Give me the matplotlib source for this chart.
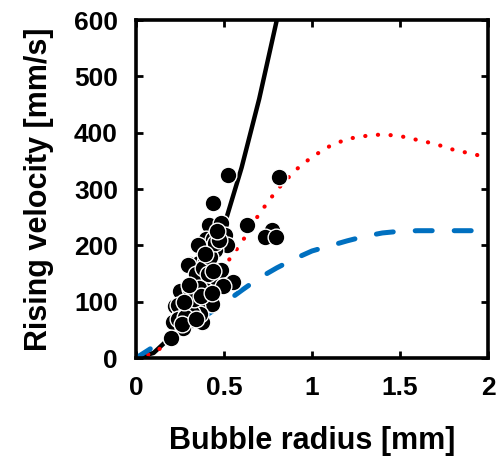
import matplotlib
matplotlib.use("Agg")
import matplotlib.pyplot as plt

# --- data ------------------------------------------------------------------
# measured bubbles: radius [mm], rising velocity [mm/s]
r_meas = [0.52, 0.814, 0.436, 0.417, 0.481, 0.629, 0.771, 0.733, 0.794, 0.398,
          0.436, 0.506, 0.519, 0.373, 0.449, 0.398, 0.307, 0.36, 0.481, 0.335,
          0.373, 0.553, 0.449, 0.496, 0.25, 0.307, 0.392, 0.33, 0.222, 0.307,
          0.405, 0.43, 0.345, 0.25, 0.212, 0.316, 0.373, 0.269, 0.197, 0.364,
          0.297, 0.392, 0.24, 0.24, 0.29, 0.34, 0.38, 0.42, 0.45, 0.47,
          0.41, 0.36, 0.32, 0.28, 0.26, 0.33, 0.37, 0.43, 0.46, 0.35,
          0.39, 0.44, 0.30, 0.34, 0.27]
v_meas = [325, 321, 275, 236, 240, 236, 227, 214, 214, 211,
          211, 218, 201, 193, 192, 174, 166, 168, 157, 141,
          141, 135, 130, 127, 119, 122, 121, 110, 92, 100,
          100, 95, 91, 76, 64, 67, 64, 53, 35, 79,
          165, 171, 94, 69, 85, 150, 160, 180, 205, 210,
          150, 125, 80, 72, 60, 105, 110, 115, 225, 200,
          185, 155, 130, 70, 100]

# model curves
r_black = [0, 0.1, 0.2, 0.3, 0.4, 0.5, 0.6, 0.7, 0.8, 0.85]
v_black = [0, 9, 38, 84, 150, 234, 338, 460, 600, 680]

r_red = [0, 0.1, 0.2, 0.3, 0.4, 0.5, 0.6, 0.7, 0.8, 0.9, 1.0, 1.1, 1.2, 1.3,
         1.4, 1.5, 1.6, 1.7, 1.8, 1.9, 2.0]
v_red = [0, 9, 30, 68, 115, 162, 205, 256, 298, 332, 357, 376, 389, 394,
         397, 394, 387, 380, 370, 363, 356]

r_blue = [0, 0.1, 0.2, 0.3, 0.4, 0.5, 0.6, 0.7, 0.8, 0.9, 1.0, 1.1, 1.2, 1.3,
          1.4, 1.5, 1.6, 1.8, 2.0]
v_blue = [0, 20, 40, 58, 76, 97, 120, 142, 160, 176, 190, 199, 208, 216,
          222, 225, 226, 226, 226]

x_ticks = [0, 0.5, 1, 1.5, 2]
x_labels = ["0", "0.5", "1", "1.5", "2"]
y_ticks = [0, 100, 200, 300, 400, 500, 600]

# --- figure ------------------------------------------------------------------
plt.rcParams['font.family'] = ['Liberation Sans', 'DejaVu Sans']
plt.rcParams['font.weight'] = 'bold'

fig = plt.figure(figsize=(4.97, 4.62), dpi=100)
ax = fig.add_axes([0.2736, 0.2251, 0.7084, 0.7316])

ax.plot(r_black, v_black, color="black", lw=3.2, zorder=1)
ax.plot(r_red, v_red, color="red", lw=3.0, linestyle=(0, (0.05, 3.0)),
        dash_capstyle="round", zorder=2)
ax.plot(r_blue, v_blue, color="#0070c0", lw=3.6, linestyle=(0, (3.4, 4.4)),
        solid_capstyle="round", dash_capstyle="round", zorder=2)
ax.scatter(r_meas, v_meas, s=145, color="black", edgecolors="white",
           linewidths=1.0, zorder=3)

ax.set_xlim(0, 2)
ax.set_ylim(0, 600)
ax.set_xticks(x_ticks, x_labels)
ax.set_yticks(y_ticks)

for s in ax.spines.values():
    s.set_linewidth(2.6)
ax.tick_params(direction="in", length=5, width=2, top=True, right=True,
               labelsize=19)
ax.tick_params(axis="y", pad=13)
ax.tick_params(axis="x", pad=13)

ax.set_xlabel("Bubble radius [mm]", fontsize=22, fontweight="bold", labelpad=19)
ax.set_ylabel("Rising velocity [mm/s]", fontsize=22, fontweight="bold", labelpad=14)

fig.savefig("out.png", dpi=100)
